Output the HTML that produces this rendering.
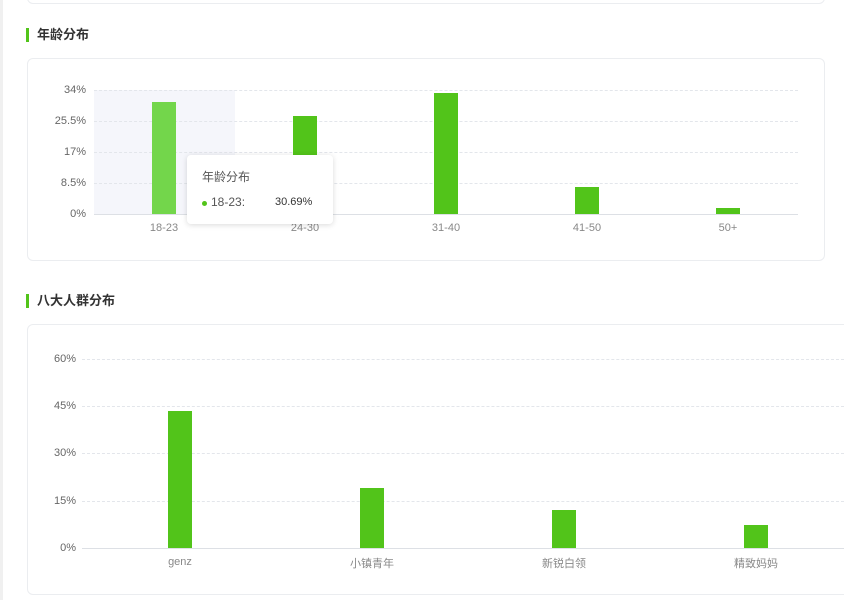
<!DOCTYPE html>
<html><head><meta charset="utf-8"><style>
body{margin:0;width:844px;height:600px;background:#fff;overflow:hidden;position:relative;font-family:"Liberation Sans","Noto Sans CJK SC",sans-serif;}
.abs{position:absolute}
.card{position:absolute;border:1px solid #ebedf0;border-radius:6px;background:#fff}
.title{position:absolute;left:26px;font-size:13px;font-weight:bold;color:#333;padding-left:11px;line-height:16px}
.title:before{content:"";position:absolute;left:0;top:1px;width:3px;height:14px;background:#52c41a}
.grid{position:absolute;height:0;border-top:1px dashed #e3e6eb}
.yl{position:absolute;font-size:11px;color:#666;text-align:right;width:50px}
.xl{position:absolute;font-size:11px;color:#888;text-align:center;width:100px}
.bar{position:absolute;width:24px;background:#52c41a}
</style></head><body>
<div class="abs" style="left:0;top:0;width:3px;height:600px;background:#f0f0f0"></div>
<div class="card" style="left:27px;top:-10px;width:796px;height:12px"></div>
<div class="title" style="top:27px">年龄分布</div>
<div class="card" style="left:27px;top:58px;width:796px;height:201px"></div>
<div class="abs" style="left:94px;top:90px;width:141px;height:124px;background:#f5f6fb"></div>
<div class="grid" style="left:94px;width:704px;top:90px"></div>
<div class="grid" style="left:94px;width:704px;top:121px"></div>
<div class="grid" style="left:94px;width:704px;top:152px"></div>
<div class="grid" style="left:94px;width:704px;top:183px"></div>
<div class="abs" style="left:94px;width:704px;top:214px;height:1px;background:#dde0e5"></div>
<div class="yl" style="left:36px;top:84px">34%</div>
<div class="yl" style="left:36px;top:115px">25.5%</div>
<div class="yl" style="left:36px;top:146px">17%</div>
<div class="yl" style="left:36px;top:177px">8.5%</div>
<div class="yl" style="left:36px;top:208px">0%</div>
<div class="bar" style="left:152px;top:102px;height:112px;background:#73d64b"></div>
<div class="bar" style="left:293px;top:116px;height:98px"></div>
<div class="bar" style="left:434px;top:93px;height:121px"></div>
<div class="bar" style="left:575px;top:187px;height:27px"></div>
<div class="bar" style="left:716px;top:208px;height:6px"></div>
<div class="xl" style="left:114px;top:222px">18-23</div>
<div class="xl" style="left:255px;top:222px">24-30</div>
<div class="xl" style="left:396px;top:222px">31-40</div>
<div class="xl" style="left:537px;top:222px">41-50</div>
<div class="xl" style="left:678px;top:222px">50+</div>
<div class="abs" style="left:187px;top:155px;width:146px;height:69px;background:#fff;border-radius:4px;box-shadow:0 1px 6px rgba(0,0,0,.15)">
<div class="abs" style="left:15px;top:13px;font-size:12px;color:#555">年龄分布</div>
<div class="abs" style="left:15px;top:46px;width:5px;height:5px;border-radius:50%;background:#52c41a"></div>
<div class="abs" style="left:24px;top:40px;font-size:12px;color:#555">18-23:</div>
<div class="abs" style="left:88px;top:41px;font-size:11px;color:#333">30.69%</div>
</div>
<div class="title" style="top:293px">八大人群分布</div>
<div class="card" style="left:27px;top:324px;width:830px;height:269px"></div>
<div class="grid" style="left:82px;width:762px;top:359px"></div>
<div class="grid" style="left:82px;width:762px;top:406px"></div>
<div class="grid" style="left:82px;width:762px;top:453px"></div>
<div class="grid" style="left:82px;width:762px;top:501px"></div>
<div class="abs" style="left:82px;width:762px;top:548px;height:1px;background:#dde0e5"></div>
<div class="yl" style="left:26px;top:353px">60%</div>
<div class="yl" style="left:26px;top:400px">45%</div>
<div class="yl" style="left:26px;top:447px">30%</div>
<div class="yl" style="left:26px;top:495px">15%</div>
<div class="yl" style="left:26px;top:542px">0%</div>
<div class="bar" style="left:168px;top:411px;height:137px"></div>
<div class="bar" style="left:360px;top:488px;height:60px"></div>
<div class="bar" style="left:552px;top:510px;height:38px"></div>
<div class="bar" style="left:744px;top:525px;height:23px"></div>
<div class="xl" style="left:130px;top:556px">genz</div>
<div class="xl" style="left:322px;top:555px">小镇青年</div>
<div class="xl" style="left:514px;top:555px">新锐白领</div>
<div class="xl" style="left:706px;top:555px">精致妈妈</div>
</body></html>
